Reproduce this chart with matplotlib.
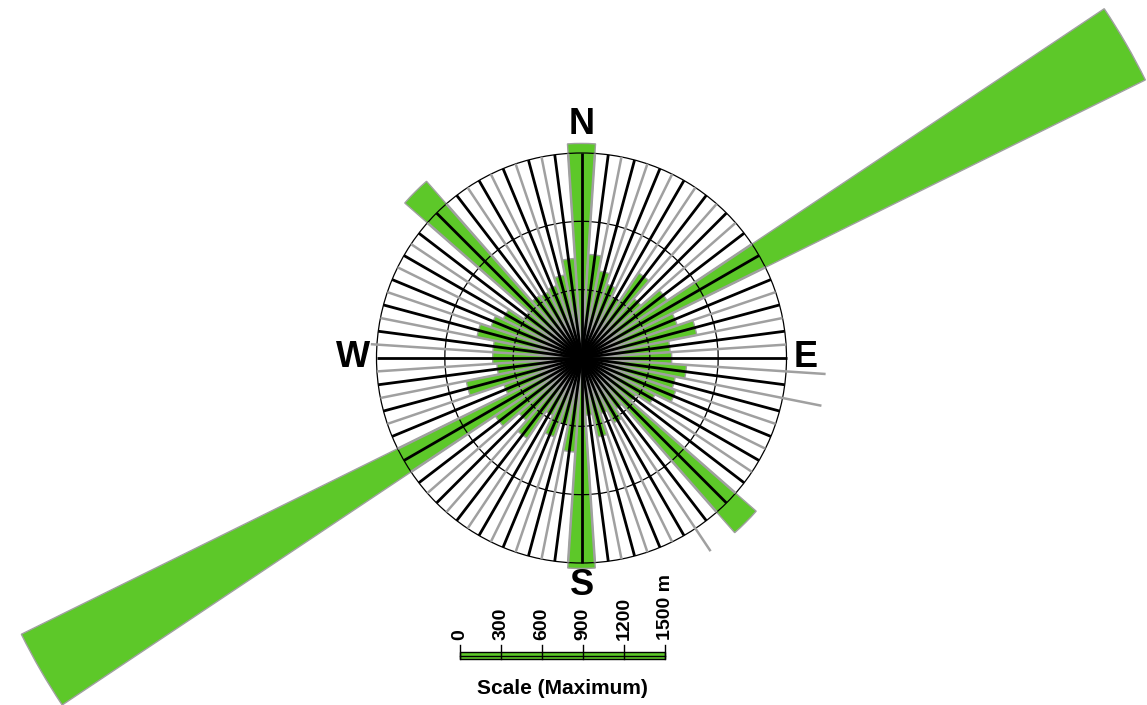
import numpy as np
import matplotlib
matplotlib.use("Agg")
import matplotlib.pyplot as plt
from matplotlib.patches import Wedge, Circle, Rectangle

# rose bins: 7.5 degree classes, bearing of the class centre (clockwise from north)
bin_width = 7.5
bin_centres = np.arange(0, 360, bin_width)

# summed length per class (m)
lengths = [
    1570, 760, 650, 570, 500, 750, 580, 755,
    4600, 740, 860, 650, 660, 770, 700, 730,
    600, 480, 1700, 450, 530, 430, 590, 420,
    1540, 690, 500, 610, 470, 710, 610, 760,
    4570, 600, 860, 620, 650, 650, 780, 700,
    640, 510, 1720, 550, 540, 560, 620, 730,
]

# class boundaries that are drawn past the outer ring
long_edges = [93.75, 101.25, 146.25, 273.75]
long_edge_lengths = [1790, 1790, 1700, 1545]

ring_radii = [500, 1000, 1500]
scale_ticks = [0, 300, 600, 900, 1200, 1500]
scale_labels = ["0", "300", "600", "900", "1200", "1500 m"]

GREEN = "#5dc829"
GREY = "#a0a0a0"

plt.rcParams["font.family"] = ["Liberation Sans", "DejaVu Sans"]

W, H, DPI = 1147, 705, 100
px = 205.0 / 1500.0          # pixels per metre
cx, cy = 581.5, 358.0        # rose centre in pixels

fig = plt.figure(figsize=(W / DPI, H / DPI), dpi=DPI)
ax = fig.add_axes([0, 0, 1, 1])
ax.set_xlim(-cx / px, (W - cx) / px)
ax.set_ylim(-(H - cy) / px, cy / px)
ax.set_aspect("equal")
ax.axis("off")


def to_xy(bearing, r):
    a = np.deg2rad(90 - bearing)
    return r * np.cos(a), r * np.sin(a)


rmax = ring_radii[-1]

# petals
for b, L in zip(bin_centres, lengths):
    t = 90 - b
    ax.add_patch(Wedge((0, 0), L, t - bin_width / 2, t + bin_width / 2,
                       facecolor=GREEN, edgecolor=GREY, linewidth=1.0, zorder=2))

# rings sit over the petals but under the spokes
for r in ring_radii:
    ax.add_patch(Circle((0, 0), r, fill=False, edgecolor="black",
                        linewidth=0.9, zorder=3))

# class boundaries (grey) and class centres (black)
for b in bin_centres + bin_width / 2:
    r = rmax
    if b in long_edges:
        r = long_edge_lengths[long_edges.index(b)]
    x, y = to_xy(b, r)
    ax.plot([0, x], [0, y], color=GREY, linewidth=1.8, zorder=4, solid_capstyle="butt")
for b in bin_centres:
    x, y = to_xy(b, rmax)
    ax.plot([0, x], [0, y], color="black", linewidth=2.0, zorder=5, solid_capstyle="butt")

# compass letters
lab_r = {"N": 1710, "E": 1640, "S": 1665, "W": 1670}
for name, b in [("N", 0), ("E", 90), ("S", 180), ("W", 270)]:
    x, y = to_xy(b, lab_r[name])
    ax.text(x, y, name, fontsize=26, fontweight="bold", ha="center", va="center", zorder=6)

# scale bar
sb_x0 = (460 - cx) / px
sb_top = (cy - 652) / px
sb_bot = (cy - 659) / px
sb_mid = (sb_top + sb_bot) / 2
ax.add_patch(Rectangle((sb_x0, sb_bot), scale_ticks[-1], sb_top - sb_bot,
                       facecolor=GREEN, edgecolor="black", linewidth=1.0, zorder=6))
ax.plot([sb_x0, sb_x0 + scale_ticks[-1]], [sb_mid, sb_mid], color="black", linewidth=1.0, zorder=7)
tick_top = (cy - 645) / px
lab_y = (cy - 640) / px
for t, s in zip(scale_ticks, scale_labels):
    ax.plot([sb_x0 + t, sb_x0 + t], [sb_bot, tick_top], color="black", linewidth=1.0, zorder=7)
    ax.text(sb_x0 + t, lab_y, s, rotation=90, fontsize=14, fontweight="bold",
            ha="center", va="bottom", zorder=7)
ax.text(sb_x0 + scale_ticks[-1] / 2, (cy - 688) / px, "Scale (Maximum)",
        fontsize=15, fontweight="bold", ha="center", va="center", zorder=7)

fig.savefig("out.png", dpi=DPI, facecolor="white")
